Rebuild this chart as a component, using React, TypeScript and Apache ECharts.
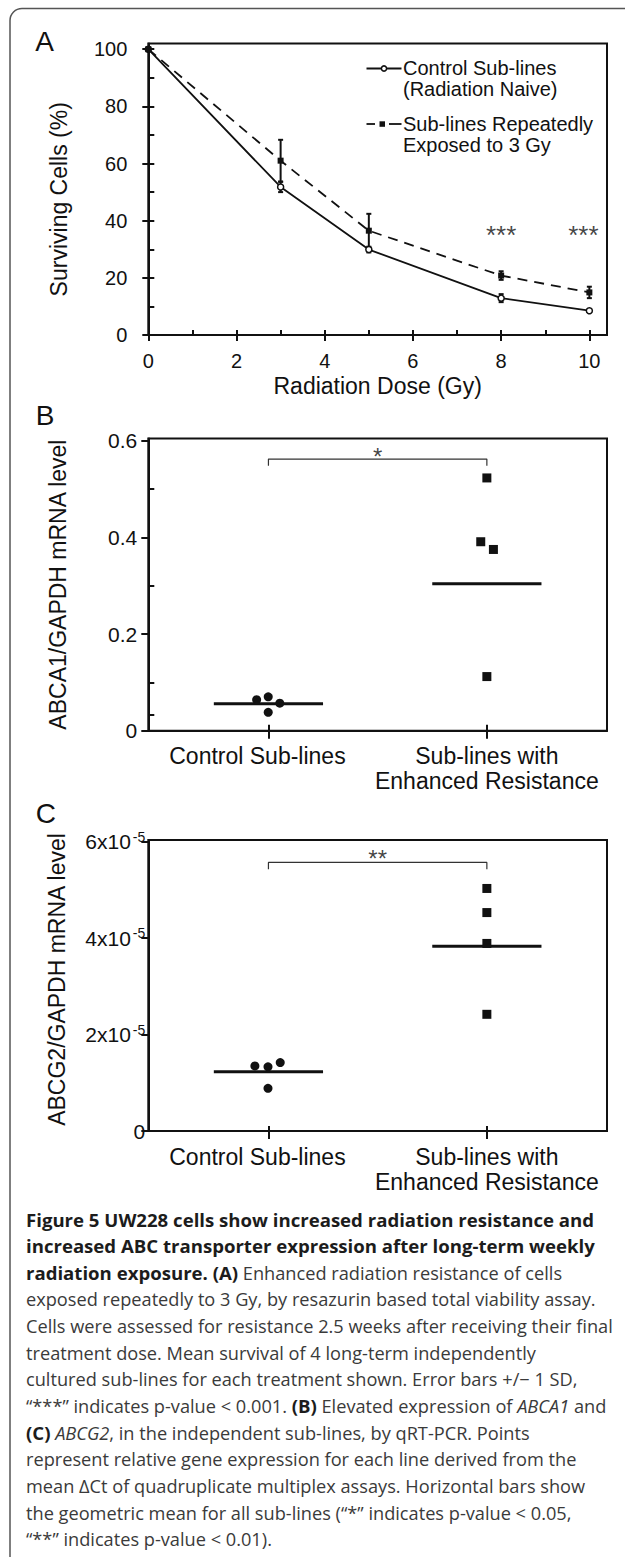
import React, { useEffect, useRef } from 'react';
import * as echarts from 'echarts';

// ---------- Panel A: survival after radiation ----------
const doses = [0, 3, 5, 8, 10];
const controlSurvival = [100, 51.8, 29.9, 12.9, 8.5];
const controlSD = [0, 1.8, 1.0, 1.4, 0.5];
const repeatedSurvival = [100, 61.0, 36.5, 20.8, 14.9];
const repeatedSD = [0, 7.3, 5.9, 1.5, 2.0];
const sigDoses = [8, 10];
const sigDoseLabel = '***';
const sigDoseLevel = 35;
const doseTicks = [0, 2, 4, 6, 8, 10];
const doseInnerTicks = [0, 1, 2, 3, 4, 5, 6, 7, 8, 9, 10];
const survivalTicks = [0, 20, 40, 60, 80, 100];
const survivalInnerTicks = [0, 10, 20, 30, 40, 50, 60, 70, 80, 90, 100];
const seriesNamesA = ['Control Sub-lines\n(Radiation Naive)', 'Sub-lines Repeatedly\nExposed to 3 Gy'];

// ---------- Panels B & C: groups ----------
const groupPos = [1, 2];
const groupLabels = ['Control Sub-lines', 'Sub-lines with\nEnhanced Resistance'];

// ---------- Panel B: ABCA1 ----------
const abca1ControlX = [0.946, 0.999, 1.052, 0.999];
const abca1Control = [0.064, 0.070, 0.057, 0.038];
const abca1ResistantX = [2.0, 1.972, 2.03, 2.0];
const abca1Resistant = [0.523, 0.391, 0.375, 0.112];
const abca1Means = [0.056, 0.304];
const abca1Ticks = [0, 0.2, 0.4, 0.6];
const abca1MinorTicks = [0.033, 0.1, 0.3, 0.5];
const abca1BracketTop = 0.562;
const abca1BracketEnd = 0.548;
const abca1SigLevel = 0.568;
const abca1Sig = '*';

// ---------- Panel C: ABCG2 ----------
const abcg2ControlX = [0.938, 0.998, 1.054, 0.998];
const abcg2Control = [1.35e-5, 1.33e-5, 1.42e-5, 0.885e-5];
const abcg2ResistantX = [2.0, 2.0, 2.0, 2.0];
const abcg2Resistant = [5.03e-5, 4.53e-5, 3.89e-5, 2.42e-5];
const abcg2Means = [1.23e-5, 3.83e-5];
const abcg2Ticks = [0, 2e-5, 4e-5, 6e-5];
const abcg2BracketTop = 5.57e-5;
const abcg2BracketEnd = 5.43e-5;
const abcg2SigLevel = 5.66e-5;
const abcg2Sig = '**';

// ---------- Caption ----------
const captionLines = [
  '{b|Figure 5 UW228 cells show increased radiation resistance and}',
  '{b|increased ABC transporter expression after long-term weekly}',
  '{b|radiation exposure. (A)} Enhanced radiation resistance of cells',
  'exposed repeatedly to 3 Gy, by resazurin based total viability assay.',
  'Cells were assessed for resistance 2.5 weeks after receiving their final',
  'treatment dose. Mean survival of 4 long-term independently',
  'cultured sub-lines for each treatment shown. Error bars +/\u2212 1 SD,',
  '\u201c***\u201d indicates p-value < 0.001. {b|(B)} Elevated expression of {i|ABCA1} and',
  '{b|(C)} {i|ABCG2}, in the independent sub-lines, by qRT-PCR. Points',
  'represent relative gene expression for each line derived from the',
  'mean \u0394Ct of quadruplicate multiplex assays. Horizontal bars show',
  'the geometric mean for all sub-lines (\u201c*\u201d indicates p-value < 0.05,',
  '\u201c**\u201d indicates p-value < 0.01).',
];

const FONT = "'Liberation Sans', Arial, Helvetica, sans-serif";
const CAPFONT = "'Open Sans', 'Noto Sans', sans-serif";
const INK = '#111111';
const MEAN_HALF = 0.25;
const CAP_SIZE = 18.2;
const CAP_BOLD_SIZE = 18.6;

function mainXAxis(grid: number, min: number, max: number, ticks: number[], extra: any) {
  return {
    gridIndex: grid, type: 'value', min, max, position: 'bottom',
    axisLine: { show: true, onZero: false, lineStyle: { color: INK, width: 2 } },
    axisTick: { show: true, inside: false, length: 6, lineStyle: { color: INK, width: 2 }, customValues: ticks },
    splitLine: { show: false },
    ...extra,
  };
}
function innerAxis(grid: number, min: number, max: number, ticks: number[], pos: string, len: number) {
  return {
    gridIndex: grid, type: 'value', min, max, position: pos,
    axisLine: { show: false, onZero: false },
    axisTick: { show: true, inside: true, length: len, lineStyle: { color: INK, width: 2 }, customValues: ticks },
    axisLabel: { show: false },
    splitLine: { show: false },
  };
}

function errorBars(name: string, xs: number[], ys: number[], sd: number[]) {
  return {
    type: 'custom', name, xAxisIndex: 0, yAxisIndex: 0, z: 2,
    encode: { x: 0, y: [1, 2] },
    data: xs.map((x, i) => [x, ys[i] - sd[i], ys[i] + sd[i]]).filter((d, i) => sd[i] > 0),
    renderItem: (params: any, api: any) => {
      const x = api.value(0);
      const lo = api.coord([x, api.value(1)]);
      const hi = api.coord([x, api.value(2)]);
      const st = { stroke: INK, lineWidth: 2 };
      return {
        type: 'group',
        children: [
          { type: 'line', shape: { x1: hi[0], y1: hi[1], x2: lo[0], y2: lo[1] }, style: st },
          { type: 'line', shape: { x1: hi[0] - 2.5, y1: hi[1], x2: hi[0] + 2.5, y2: hi[1] }, style: st },
          { type: 'line', shape: { x1: lo[0] - 2.5, y1: lo[1], x2: lo[0] + 2.5, y2: lo[1] }, style: st },
        ],
      };
    },
  };
}

function meanSeries(xi: number, yi: number, means: number[]) {
  return {
    type: 'custom', xAxisIndex: xi, yAxisIndex: yi, z: 2,
    data: groupPos.map((g, i) => [g, means[i]]),
    renderItem: (params: any, api: any) => {
      const x = api.value(0), y = api.value(1);
      const a = api.coord([x - MEAN_HALF, y]);
      const b = api.coord([x + MEAN_HALF, y]);
      return { type: 'line', shape: { x1: a[0], y1: a[1], x2: b[0], y2: b[1] }, style: { stroke: INK, lineWidth: 3 } };
    },
  };
}

function scatter(xi: number, yi: number, xs: number[], ys: number[], symbol: string) {
  return {
    type: 'scatter', xAxisIndex: xi, yAxisIndex: yi, symbol, symbolSize: 9, z: 3,
    itemStyle: { color: INK, opacity: 1 },
    data: xs.map((x, i) => [x, ys[i]]),
  };
}

function bracket(xi: number, yi: number, top: number, end: number) {
  return {
    type: 'line', xAxisIndex: xi, yAxisIndex: yi, symbol: 'none', z: 2,
    lineStyle: { color: '#333', width: 1.2 },
    data: [[groupPos[0], end], [groupPos[0], top], [groupPos[1], top], [groupPos[1], end]],
  };
}

function sigText(xi: number, yi: number, pts: any[], text: string, size: number) {
  return {
    type: 'scatter', xAxisIndex: xi, yAxisIndex: yi, symbolSize: 1, z: 4,
    itemStyle: { color: 'rgba(0,0,0,0)' },
    label: { show: true, position: 'inside', formatter: text, fontSize: size, color: INK, fontFamily: FONT },
    data: pts,
  };
}

const groupLabelFormatter = (v: number) =>
  Math.round(v) === groupPos[0] ? '{c|' + groupLabels[0] + '}' : groupLabels[1];

const groupAxisLabel = {
  show: true, customValues: groupPos, formatter: groupLabelFormatter,
  fontSize: 23, lineHeight: 25, color: INK, margin: 13, fontFamily: FONT,
  rich: { c: { fontSize: 23, lineHeight: 25, color: INK, fontFamily: FONT, padding: [0, 22, 0, 0] } },
};

const option: any = {
  animation: false,
  backgroundColor: '#ffffff',
  textStyle: { fontFamily: FONT },
  grid: [
    { left: 148.3, top: 43.5, width: 458.7, height: 291.5, show: true, borderColor: INK, borderWidth: 2, backgroundColor: 'transparent' },
    { left: 148.3, top: 438.5, width: 458.7, height: 292.2, show: true, borderColor: INK, borderWidth: 2, backgroundColor: 'transparent' },
    { left: 148.3, top: 840, width: 458.7, height: 291, show: true, borderColor: INK, borderWidth: 2, backgroundColor: 'transparent' },
  ],
  xAxis: [
    mainXAxis(0, 0, 10.4, doseTicks, {
      axisLabel: { show: true, customValues: doseTicks, fontSize: 20, color: INK, margin: 16, fontFamily: FONT },
      name: 'Radiation Dose (Gy)', nameLocation: 'middle', nameGap: 39,
      nameTextStyle: { fontSize: 23, color: INK, fontFamily: FONT },
    }),
    innerAxis(0, 0, 10.4, doseInnerTicks, 'bottom', 5),
    mainXAxis(1, 0.45, 2.55, groupPos, { axisTick: { show: true, length: 8, lineStyle: { color: INK, width: 2 }, customValues: groupPos }, axisLabel: groupAxisLabel }),
    innerAxis(1, 0.45, 2.55, groupPos, 'bottom', 6),
    mainXAxis(2, 0.45, 2.55, groupPos, { axisTick: { show: true, length: 8, lineStyle: { color: INK, width: 2 }, customValues: groupPos }, axisLabel: groupAxisLabel }),
    innerAxis(2, 0.45, 2.55, groupPos, 'bottom', 5),
  ],
  yAxis: [
    {
      gridIndex: 0, type: 'value', min: 0, max: 102, position: 'left',
      axisLine: { show: true, onZero: false, lineStyle: { color: INK, width: 2 } },
      axisTick: { show: true, inside: false, length: 6, lineStyle: { color: INK, width: 2 }, customValues: survivalTicks },
      axisLabel: { show: true, customValues: survivalTicks, fontSize: 20, color: INK, margin: 21, fontFamily: FONT },
      splitLine: { show: false },
      name: 'Surviving Cells (%)', nameLocation: 'middle', nameRotate: 90, nameGap: 78,
      nameTextStyle: { fontSize: 23, color: INK, fontFamily: FONT, padding: [0, 20, 0, 0] },
    },
    innerAxis(0, 0, 102, survivalInnerTicks, 'left', 6),
    {
      gridIndex: 1, type: 'value', min: 0, max: 0.6046, position: 'left',
      axisLine: { show: true, onZero: false, lineStyle: { color: INK, width: 2 } },
      axisTick: { show: true, inside: false, length: 7, lineStyle: { color: INK, width: 2 }, customValues: abca1Ticks },
      axisLabel: {
        show: true, customValues: abca1Ticks, fontSize: 21, color: INK, margin: 11, fontFamily: FONT,
        formatter: (v: number) => (v === 0 ? '0' : v.toFixed(1)),
      },
      splitLine: { show: false },
      name: 'ABCA1/GAPDH mRNA level', nameLocation: 'middle', nameRotate: 90, nameGap: 79,
      nameTextStyle: { fontSize: 23, color: INK, fontFamily: FONT },
    },
    innerAxis(1, 0, 0.6046, abca1MinorTicks, 'left', 6),
    {
      gridIndex: 2, type: 'value', min: 0, max: 6.035e-5, position: 'left',
      axisLine: { show: true, onZero: false, lineStyle: { color: INK, width: 2 } },
      axisTick: { show: true, inside: false, length: 7, lineStyle: { color: INK, width: 2 }, customValues: abcg2Ticks },
      axisLabel: {
        show: true, customValues: abcg2Ticks, fontSize: 21, color: INK, margin: 3, fontFamily: FONT,
        formatter: (v: number) => (v === 0 ? '0' : '{n|' + Math.round(v / 1e-5) + 'x10}{s|-5}'),
        rich: {
          n: { fontSize: 21, lineHeight: 24, color: INK, fontFamily: FONT },
          s: { fontSize: 14, lineHeight: 14, verticalAlign: 'top', color: INK, fontFamily: FONT, padding: [0, 0, 0, 2] },
        },
      },
      splitLine: { show: false },
      name: 'ABCG2/GAPDH mRNA level', nameLocation: 'middle', nameRotate: 90, nameGap: 80,
      nameTextStyle: { fontSize: 23, color: INK, fontFamily: FONT, padding: [0, 0, 0, 12] },
    },
  ],
  series: [
    errorBars('controlSD', doses, controlSurvival, controlSD),
    errorBars('repeatedSD', doses, repeatedSurvival, repeatedSD),
    {
      type: 'line', name: seriesNamesA[0], xAxisIndex: 0, yAxisIndex: 0, z: 3,
      data: doses.map((d, i) => [d, controlSurvival[i]]),
      lineStyle: { color: INK, width: 1.8 },
      symbol: 'circle', symbolSize: 6, showAllSymbol: true,
      itemStyle: { color: '#ffffff', borderColor: INK, borderWidth: 1.5 },
    },
    {
      type: 'line', name: seriesNamesA[1], xAxisIndex: 0, yAxisIndex: 0, z: 3,
      data: doses.map((d, i) => [d, repeatedSurvival[i]]),
      lineStyle: { color: INK, width: 1.8, type: [10, 7] },
      symbol: 'rect', symbolSize: 6, showAllSymbol: true,
      itemStyle: { color: INK },
    },
    sigText(0, 0, sigDoses.map((d, i) => ({
      value: [d, sigDoseLevel],
      label: { offset: [i === sigDoses.length - 1 ? -6 : 0, 0] },
    })), sigDoseLabel, 26),

    bracket(2, 2, abca1BracketTop, abca1BracketEnd),
    sigText(2, 2, [[(groupPos[0] + groupPos[1]) / 2, abca1SigLevel]], abca1Sig, 24),
    meanSeries(2, 2, abca1Means),
    scatter(2, 2, abca1ControlX, abca1Control, 'circle'),
    scatter(2, 2, abca1ResistantX, abca1Resistant, 'rect'),

    bracket(4, 4, abcg2BracketTop, abcg2BracketEnd),
    sigText(4, 4, [[(groupPos[0] + groupPos[1]) / 2, abcg2SigLevel]], abcg2Sig, 24),
    meanSeries(4, 4, abcg2Means),
    scatter(4, 4, abcg2ControlX, abcg2Control, 'circle'),
    scatter(4, 4, abcg2ResistantX, abcg2Resistant, 'rect'),
  ],
  graphic: [
    { type: 'rect', silent: true, z: -10, shape: { x: 10, y: 8.5, width: 700, height: 1700, r: 12 }, style: { fill: 'none', stroke: '#555555', lineWidth: 1.5 } },
    { type: 'text', x: 44.5, y: 41.7, style: { text: 'A', fontSize: 28, fontFamily: FONT, fill: INK, align: 'center', verticalAlign: 'middle' } },
    { type: 'text', x: 45, y: 415.8, style: { text: 'B', fontSize: 28, fontFamily: FONT, fill: INK, align: 'center', verticalAlign: 'middle' } },
    { type: 'text', x: 45.8, y: 813, style: { text: 'C', fontSize: 28, fontFamily: FONT, fill: INK, align: 'center', verticalAlign: 'middle' } },
    // legend A
    { type: 'line', shape: { x1: 366.5, y1: 68.5, x2: 401.5, y2: 68.5 }, style: { stroke: INK, lineWidth: 1.8 } },
    { type: 'circle', shape: { cx: 384, cy: 68.5, r: 2.6 }, style: { fill: '#ffffff', stroke: INK, lineWidth: 1.5 } },
    { type: 'text', x: 403, y: 78.5, style: { text: seriesNamesA[0], fontSize: 20, lineHeight: 21, fontFamily: FONT, fill: INK, align: 'left', verticalAlign: 'middle' } },
    { type: 'line', shape: { x1: 366.5, y1: 124, x2: 375, y2: 124 }, style: { stroke: INK, lineWidth: 1.8 } },
    { type: 'rect', shape: { x: 379.5, y: 121.3, width: 5.5, height: 5.5 }, style: { fill: INK } },
    { type: 'line', shape: { x1: 389, y1: 124, x2: 401.5, y2: 124 }, style: { stroke: INK, lineWidth: 1.8 } },
    { type: 'text', x: 403, y: 134.5, style: { text: seriesNamesA[1], fontSize: 20, lineHeight: 21, fontFamily: FONT, fill: INK, align: 'left', verticalAlign: 'middle' } },
    // caption
    ...captionLines.map((line, i) => ({
      type: 'text', x: 26, y: 1219.3 + i * 26.67,
      style: {
        text: line, fontSize: CAP_SIZE, fontFamily: CAPFONT, fill: '#3a3a3a', align: 'left', verticalAlign: 'middle',
        rich: {
          b: { fontSize: CAP_BOLD_SIZE, fontFamily: CAPFONT, fontWeight: 'bold', fill: '#1c1c1c', color: '#1c1c1c' },
          i: { fontSize: CAP_SIZE, fontFamily: CAPFONT, fontStyle: 'italic', fill: '#3a3a3a', color: '#3a3a3a' },
        },
      },
    })),
  ],
};

export default function App() {
  const ref = useRef<HTMLDivElement>(null);
  useEffect(() => {
    document.body.style.margin = '0';
    const chart = echarts.init(ref.current as HTMLDivElement, null, { renderer: 'svg' });
    chart.setOption(option);
    return () => chart.dispose();
  }, []);
  return (
    <div
      ref={ref}
      style={{ width: 625, height: 1557, position: 'absolute', left: 0, top: 0, background: '#ffffff' }}
    />
  );
}
